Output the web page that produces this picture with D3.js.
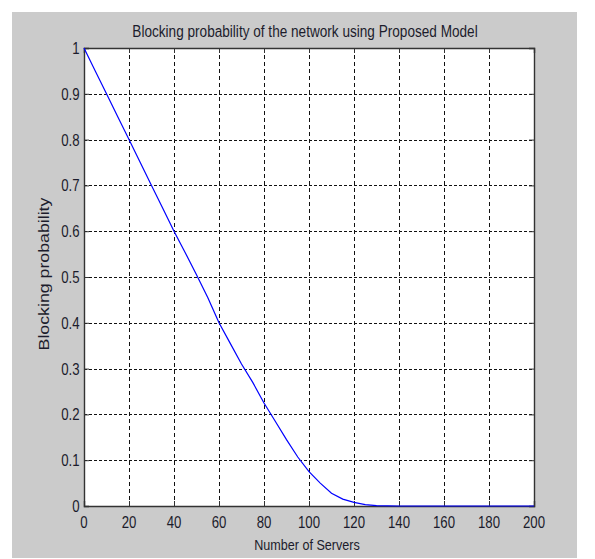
<!DOCTYPE html>
<html>
<head>
<meta charset="utf-8">
<script src="https://cdn.jsdelivr.net/npm/d3@7"></script>
<style>
  html, body { margin: 0; padding: 0; background: #ffffff; }
  svg { display: block; }
  text { font-family: "Liberation Sans", Arial, sans-serif; fill: #1c1c2c; }
</style>
</head>
<body>
<svg id="chart" width="595" height="559"></svg>
<script>
// ---- data ----
const servers = [0, 5, 10, 15, 20, 25, 30, 35, 40, 45, 50, 55, 60, 65, 70, 75, 80, 85, 90, 95, 100, 105, 110, 115, 120, 125, 130, 140, 150, 160, 170, 180, 190, 200];
const blockingProb = [1.0, 0.95, 0.90, 0.85, 0.80, 0.75, 0.70, 0.65, 0.60, 0.553, 0.505, 0.455, 0.40, 0.355, 0.31, 0.27, 0.225, 0.185, 0.145, 0.107, 0.075, 0.05, 0.028, 0.015, 0.008, 0.003, 0.001, 0, 0, 0, 0, 0, 0, 0];
const xTicks = [0, 20, 40, 60, 80, 100, 120, 140, 160, 180, 200];
const yTicks = [0, 0.1, 0.2, 0.3, 0.4, 0.5, 0.6, 0.7, 0.8, 0.9, 1];
const titleText = "Blocking probability of the network using Proposed Model";
const xLabelText = "Number of Servers";
const yLabelText = "Blocking probability";

// ---- layout ----
const svg = d3.select("#chart");
const plot = { left: 84, right: 534, top: 48, bottom: 506 };
const stretch = 1.2;

// gray figure background
svg.append("rect").attr("x", 12).attr("y", 12).attr("width", 565).attr("height", 546).attr("fill", "#cbcbcb");

const x = d3.scaleLinear().domain([0, 200]).range([plot.left, plot.right]);
const y = d3.scaleLinear().domain([0, 1]).range([plot.bottom, plot.top]);

// white axes area
svg.append("rect").attr("x", plot.left).attr("y", plot.top)
  .attr("width", plot.right - plot.left).attr("height", plot.bottom - plot.top).attr("fill", "#ffffff");

// grid
const grid = svg.append("g");
grid.selectAll("line.vg").data(xTicks.slice(1, -1)).enter().append("line")
  .attr("x1", d => Math.round(x(d)) + 0.5).attr("x2", d => Math.round(x(d)) + 0.5)
  .attr("y1", plot.top).attr("y2", plot.bottom)
  .attr("stroke", "#111").attr("stroke-width", 1).attr("stroke-dasharray", "4,3");
grid.selectAll("line.hg").data(yTicks.slice(1, -1)).enter().append("line")
  .attr("y1", d => Math.round(y(d)) + 0.5).attr("y2", d => Math.round(y(d)) + 0.5)
  .attr("x1", plot.left).attr("x2", plot.right)
  .attr("stroke", "#111").attr("stroke-width", 1).attr("stroke-dasharray", "3,2");

// axes with inward ticks
const xAxisB = d3.axisBottom(x).tickValues(xTicks).tickSize(-5).tickFormat("");
const xAxisT = d3.axisTop(x).tickValues(xTicks).tickSize(-5).tickFormat("");
const yAxisL = d3.axisLeft(y).tickValues(yTicks).tickSize(-5).tickFormat("");
const yAxisR = d3.axisRight(y).tickValues(yTicks).tickSize(-5).tickFormat("");
function styleAxis(g) {
  g.selectAll("path").attr("stroke", "#333").attr("stroke-width", 1.4);
  g.selectAll("line").attr("stroke", "#333").attr("stroke-width", 1);
}
svg.append("g").attr("transform", `translate(0,${plot.bottom})`).call(xAxisB).call(styleAxis);
svg.append("g").attr("transform", `translate(0,${plot.top})`).call(xAxisT).call(styleAxis);
svg.append("g").attr("transform", `translate(${plot.left},0)`).call(yAxisL).call(styleAxis);
svg.append("g").attr("transform", `translate(${plot.right},0)`).call(yAxisR).call(styleAxis);

// tick labels
svg.append("g").selectAll("text").data(xTicks).enter().append("text")
  .attr("transform", d => `translate(${x(d)},527.5) scale(1,1.28)`)
  .attr("text-anchor", "middle").attr("font-size", 13.2)
  .text(d => d);
svg.append("g").selectAll("text").data(yTicks).enter().append("text")
  .attr("transform", d => `translate(79.5,${y(d) + 6}) scale(1,1.28)`)
  .attr("text-anchor", "end").attr("font-size", 13.2)
  .text(d => d === 0 ? "0" : d === 1 ? "1" : d3.format(".1f")(d));

// data line
const line = d3.line().x((d, i) => x(servers[i])).y(d => y(d));
svg.append("path").datum(blockingProb)
  .attr("d", line).attr("fill", "none")
  .attr("stroke", "#0000ff").attr("stroke-width", 1.2);

// title
svg.append("text")
  .attr("transform", `translate(${(plot.left + plot.right) / 2 - 4},37) scale(1,${stretch})`)
  .attr("text-anchor", "middle").attr("font-size", 13.6)
  .text(titleText);

// x label
svg.append("text")
  .attr("transform", `translate(${(plot.left + plot.right) / 2 - 2},550) scale(1,${stretch})`)
  .attr("text-anchor", "middle").attr("font-size", 12.6)
  .text(xLabelText);

// y label
svg.append("text")
  .attr("transform", `translate(49,274) rotate(-90) scale(${stretch},1)`)
  .attr("text-anchor", "middle").attr("font-size", 14.8)
  .text(yLabelText);
</script>
</body>
</html>
